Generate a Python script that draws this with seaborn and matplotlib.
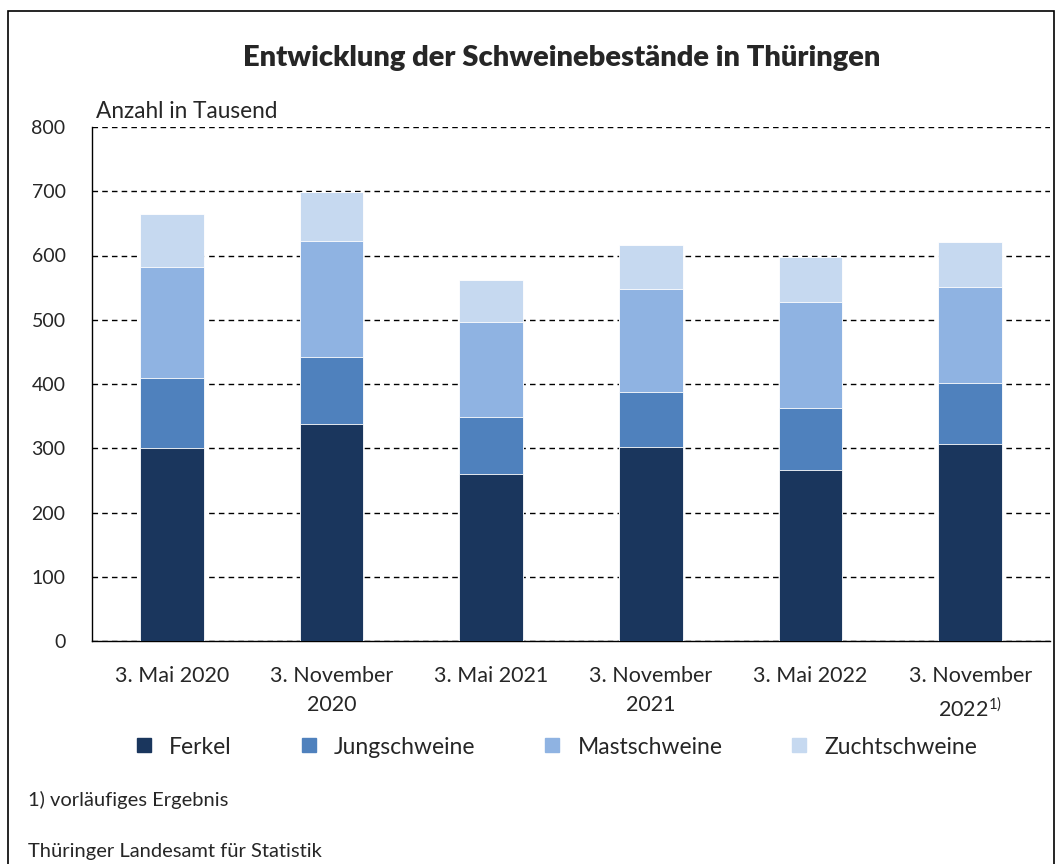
import numpy as np
import pandas as pd
import seaborn as sns
from matplotlib import pyplot as plt
from matplotlib.patches import Rectangle
from matplotlib.lines import Line2D

# data (in thousands)
dates = ["3. Mai 2020", "3. November\n2020", "3. Mai 2021",
         "3. November\n2021", "3. Mai 2022", "3. November\n2022$^{1)}$"]
ferkel = [300, 338, 260, 302, 266, 306]
jungschweine = [110, 104, 88, 85, 96, 95]
mastschweine = [172, 180, 149, 161, 166, 150]
zuchtschweine = [83, 77, 65, 69, 69, 70]

groups = ["Ferkel", "Jungschweine", "Mastschweine", "Zuchtschweine"]
colors = ["#1a365d", "#4f81bd", "#8fb3e2", "#c6d9f0"]

data = pd.DataFrame(
    {"Ferkel": ferkel, "Jungschweine": jungschweine,
     "Mastschweine": mastschweine, "Zuchtschweine": zuchtschweine},
    index=dates,
)
cum = data.cumsum(axis=1)

sns.set_style("white")
plt.rcParams["font.family"] = ["Lato", "DejaVu Sans"]
plt.rcParams["mathtext.fontset"] = "custom"
plt.rcParams["mathtext.rm"] = "Lato"
plt.rcParams["mathtext.default"] = "rm"

fig = plt.figure(figsize=(10.64, 8.64), dpi=100)
ax = fig.add_axes([92 / 1064, 1 - 641 / 864, 958 / 1064, 514 / 864])

# stacked bars: draw cumulative totals from the top group down
for grp, col in zip(groups[::-1], colors[::-1]):
    sns.barplot(x=cum.index, y=cum[grp].values, color=col, width=0.4,
                saturation=1, edgecolor="white", linewidth=0.6, ax=ax,
                zorder=3)

ax.set_ylim(0, 800)
ax.set_xlim(-0.5, 5.5)
ax.set_yticks(range(0, 801, 100))
ax.yaxis.grid(True, color="black", linestyle=(0, (4, 3)), linewidth=1)
ax.set_axisbelow(True)
ax.tick_params(axis="x", labelsize=15.5, length=0, pad=18)
ax.tick_params(axis="y", labelsize=14, length=0, pad=19)
for lbl in ax.get_xticklabels():
    lbl.set_linespacing(1.55)
ax.set_xlabel("")
ax.set_ylabel("")
for side in ["top", "right"]:
    ax.spines[side].set_visible(False)
for side in ["left", "bottom"]:
    ax.spines[side].set_color("black")
    ax.spines[side].set_linewidth(1.0)

ax.text(0.004, 1.01, "Anzahl in Tausend", transform=ax.transAxes,
        fontsize=16.3, ha="left", va="bottom")

fig.text(562 / 1064, 1 - 58 / 864, "Entwicklung der Schweinebestände in Thüringen",
         fontsize=21, fontweight="heavy", ha="center", va="center")

handles = [Line2D([], [], marker="s", linestyle="", markersize=10.5,
                  markerfacecolor=c, markeredgecolor=c) for c in colors]
fig.legend(handles, groups, loc="center", ncol=4, frameon=False,
           bbox_to_anchor=(555 / 1064, 1 - 747 / 864), fontsize=16.5,
           columnspacing=2.85, handletextpad=0.6, handlelength=1.0)

fig.text(28 / 1064, 1 - 800 / 864, "1) vorläufiges Ergebnis", fontsize=14.5,
         ha="left", va="center")
fig.text(28 / 1064, 1 - 851 / 864, "Thüringer Landesamt für Statistik",
         fontsize=14.5, ha="left", va="center")

fig.patches.append(Rectangle((8 / 1064, -0.01), 1046 / 1064, 1 - 11 / 864 + 0.01,
                             transform=fig.transFigure, fill=False,
                             edgecolor="black", linewidth=1.2))

fig.savefig("out.png", dpi=100)
